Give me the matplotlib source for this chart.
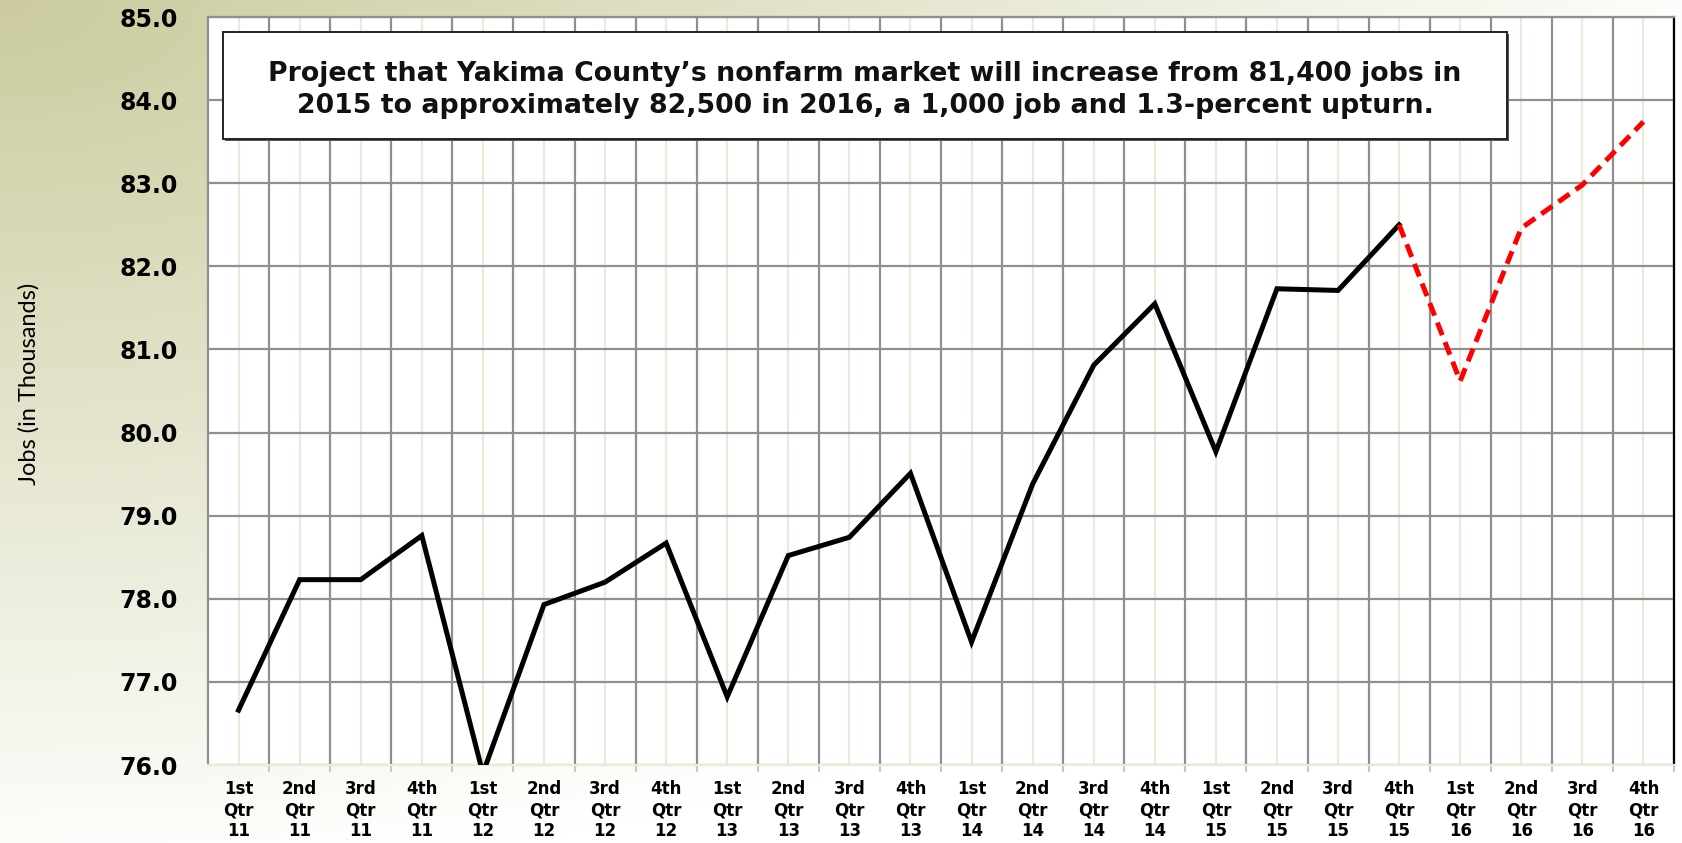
import numpy as np
import matplotlib
matplotlib.use("Agg")
import matplotlib.pyplot as plt
from matplotlib.patches import Rectangle

# ---------------- data ----------------
quarter_labels = [
    "1st\nQtr\n11", "2nd\nQtr\n11", "3rd\nQtr\n11", "4th\nQtr\n11",
    "1st\nQtr\n12", "2nd\nQtr\n12", "3rd\nQtr\n12", "4th\nQtr\n12",
    "1st\nQtr\n13", "2nd\nQtr\n13", "3rd\nQtr\n13", "4th\nQtr\n13",
    "1st\nQtr\n14", "2nd\nQtr\n14", "3rd\nQtr\n14", "4th\nQtr\n14",
    "1st\nQtr\n15", "2nd\nQtr\n15", "3rd\nQtr\n15", "4th\nQtr\n15",
    "1st\nQtr\n16", "2nd\nQtr\n16", "3rd\nQtr\n16", "4th\nQtr\n16",
]
actual_jobs = [76.66, 78.23, 78.23, 78.76, 75.90, 77.93, 78.20, 78.67,
               76.82, 78.52, 78.74, 79.51, 77.48, 79.38, 80.81, 81.55,
               79.77, 81.73, 81.71, 82.50]
forecast_jobs = [82.50, 80.62, 82.46, 82.98, 83.74]
forecast_start = 19  # index of 4th Qtr 15

y_ticks = [76.0, 77.0, 78.0, 79.0, 80.0, 81.0, 82.0, 83.0, 84.0, 85.0]
y_label = "Jobs (in Thousands)"
note_text = ("Project that Yakima County\u2019s nonfarm market will increase from 81,400 jobs in\n"
             "2015 to approximately 82,500 in 2016, a 1,000 job and 1.3-percent upturn.")

# ---------------- figure ----------------
W, H = 1682, 843
fig = plt.figure(figsize=(W / 100, H / 100), dpi=100)

# background gradient (tan at top-left fading to white)
bg = fig.add_axes([0, 0, 1, 1], zorder=-10)
yy, xx = np.mgrid[0:H, 0:W]
d = np.clip(np.sqrt((xx / 1750.0) ** 2 + (yy / 880.0) ** 2), 0, 1)
tan = np.array([203, 203, 158]) / 255.0
white = np.array([1.0, 1.0, 1.0])
img = tan[None, None, :] * (1 - d[..., None]) + white[None, None, :] * d[..., None]
bg.imshow(img, aspect="auto", extent=[0, 1, 0, 1], origin="upper")
bg.axis("off")

ax = fig.add_axes([208 / W, (H - 765) / H, (1674 - 208) / W, (765 - 17) / H])
ax.set_facecolor("white")

x_all = np.arange(len(quarter_labels))
x_act = x_all[:len(actual_jobs)]
x_fc = x_all[forecast_start:forecast_start + len(forecast_jobs)]

ax.set_xlim(-0.5, len(quarter_labels) - 0.5)
ax.set_ylim(y_ticks[0], y_ticks[-1])

# grid: light lines at category centers, dark at boundaries
ax.set_xticks(x_all)
ax.set_xticks(np.arange(len(quarter_labels)) + 0.5, minor=True)
ax.set_yticks(y_ticks)
ax.grid(True, which="major", axis="x", color="#ece9db", linewidth=1.6, zorder=0)
ax.grid(True, which="minor", axis="x", color="#8f8f8f", linewidth=1.6, zorder=0)
ax.grid(True, which="major", axis="y", color="#8f8f8f", linewidth=1.6, zorder=0)
ax.set_axisbelow(True)

ax.plot(x_act, actual_jobs, color="black", linewidth=3.6, solid_joinstyle="miter", zorder=3)
ax.plot(x_fc, forecast_jobs, color="#ff0000", linewidth=3.6, linestyle=(0, (2.7, 1.5)), zorder=3)

ax.set_xticklabels(quarter_labels, fontsize=12, fontweight="bold", linespacing=1.2)
ax.set_yticklabels([f"{v:.1f}" for v in y_ticks], fontsize=17, fontweight="bold")
ax.tick_params(axis="x", which="major", length=0, pad=11)
ax.tick_params(axis="x", which="minor", length=5, color="#c8c8c8", width=1.5)
ax.tick_params(axis="y", length=0, pad=22)

for side, col in [("left", "#8f8f8f"), ("top", "#8f8f8f"), ("right", "black"), ("bottom", "#ece9db")]:
    ax.spines[side].set_color(col)
    ax.spines[side].set_linewidth(1.6)

fig.text(29 / W, 1 - 384 / H, y_label, rotation=90, ha="center", va="center",
         fontsize=17, family="Lato", color="black")

# annotation box
bx0, bx1, by0, by1 = 223 / W, 1507 / W, 1 - 139 / H, 1 - 32 / H
fig.patches.append(Rectangle((bx0 + 2 / W, by0 - 2 / H), bx1 - bx0, by1 - by0,
                             transform=fig.transFigure, facecolor="#555555",
                             edgecolor="none", zorder=5))
fig.patches.append(Rectangle((bx0, by0), bx1 - bx0, by1 - by0, transform=fig.transFigure,
                             facecolor="white", edgecolor="#222222", linewidth=1.4, zorder=6))
fig.text((bx0 + bx1) / 2, 1 - 90 / H, note_text, ha="center", va="center",
         fontsize=19.3, fontweight="bold", color="#111111", linespacing=1.3, zorder=7)

fig.savefig("out.png", dpi=100)
